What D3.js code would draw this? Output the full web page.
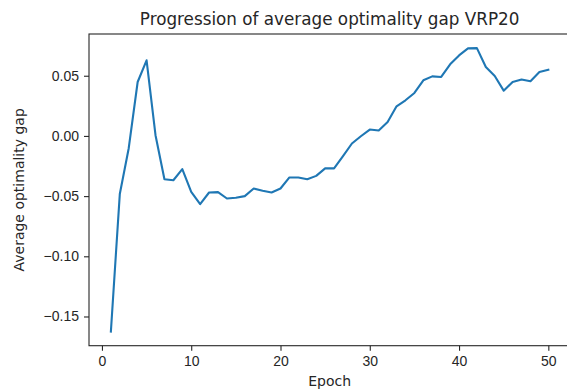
<!DOCTYPE html>
<html>
<head>
<meta charset="utf-8">
<script src="https://cdn.jsdelivr.net/npm/d3@7"></script>
<style>
  body { margin: 0; background: #fff; }
  svg { display: block; font-family: "DejaVu Sans", sans-serif; }
  .axis text { font-size: 14px; fill: #262626; }
  .axis path, .axis line { stroke: #262626; stroke-width: 1.1; }
</style>
</head>
<body>
<div id="chart"></div>
<script>
// average optimality gap per epoch
const epochs = d3.range(1, 51);
const gap = [
  -0.1625, -0.0483, -0.0102, 0.0448, 0.0628, 0.0006, -0.0360, -0.0368, -0.0276, -0.0464,
  -0.0566, -0.0470, -0.0467, -0.0520, -0.0514, -0.0500, -0.0437, -0.0456, -0.0470, -0.0437,
  -0.0345, -0.0345, -0.0360, -0.0332, -0.0270, -0.0270, -0.0168, -0.0063, -0.0003, 0.0053,
  0.0045, 0.0116, 0.0246, 0.0296, 0.0357, 0.0462, 0.0495, 0.0490, 0.0595, 0.0669,
  0.0727, 0.0729, 0.0572, 0.0498, 0.0376, 0.0448, 0.0468, 0.0454, 0.0531, 0.0550
];
const xTicks = [0, 10, 20, 30, 40, 50];
const yTicks = [-0.15, -0.10, -0.05, 0.00, 0.05];

const width = 567, height = 391;
const margin = { top: 34, left: 89, bottom: 45.3, right: -3.2 };

const svg = d3.select('#chart').append('svg')
  .attr('width', width)
  .attr('height', height);

// matplotlib style 5% padding
function padded(ext) {
  const p = (ext[1] - ext[0]) * 0.05;
  return [ext[0] - p, ext[1] + p];
}

const x = d3.scaleLinear()
  .domain(padded(d3.extent(epochs)))
  .range([margin.left, width - margin.right]);
const y = d3.scaleLinear()
  .domain(padded(d3.extent(gap)))
  .range([height - margin.bottom, margin.top]);

// frame
svg.append('rect')
  .attr('x', margin.left)
  .attr('y', margin.top)
  .attr('width', width - margin.right - margin.left)
  .attr('height', height - margin.bottom - margin.top)
  .attr('fill', 'none')
  .attr('stroke', '#262626')
  .attr('stroke-width', 1.1);

svg.append('g')
  .attr('class', 'axis axis-x')
  .attr('transform', `translate(0, ${height - margin.bottom})`)
  .call(d3.axisBottom(x).tickValues(xTicks).tickSize(5).tickPadding(5).tickSizeOuter(0))
  .call(g => g.select('.domain').remove());

svg.append('g')
  .attr('class', 'axis axis-y')
  .attr('transform', `translate(${margin.left}, 0)`)
  .call(d3.axisLeft(y).tickValues(yTicks).tickFormat(d3.format('.2f')).tickSize(5).tickPadding(5).tickSizeOuter(0))
  .call(g => g.select('.domain').remove());

const line = d3.line()
  .x((d, i) => x(epochs[i]))
  .y(d => y(d));

svg.append('path')
  .datum(gap)
  .attr('d', line)
  .attr('fill', 'none')
  .attr('stroke', '#1f77b4')
  .attr('stroke-width', 2.1)
  .attr('stroke-linejoin', 'round')
  .attr('stroke-linecap', 'square');

// title and axis labels
svg.append('text')
  .attr('x', (margin.left + width - margin.right) / 2)
  .attr('y', 25)
  .attr('text-anchor', 'middle')
  .attr('font-size', 16.8)
  .attr('fill', '#262626')
  .text('Progression of average optimality gap VRP20');

svg.append('text')
  .attr('x', (margin.left + width - margin.right) / 2)
  .attr('y', 386)
  .attr('text-anchor', 'middle')
  .attr('font-size', 14)
  .attr('fill', '#262626')
  .text('Epoch');

svg.append('text')
  .attr('transform', `translate(24, ${(margin.top + height - margin.bottom) / 2}) rotate(-90)`)
  .attr('text-anchor', 'middle')
  .attr('font-size', 14)
  .attr('fill', '#262626')
  .text('Average optimality gap');
</script>
</body>
</html>
